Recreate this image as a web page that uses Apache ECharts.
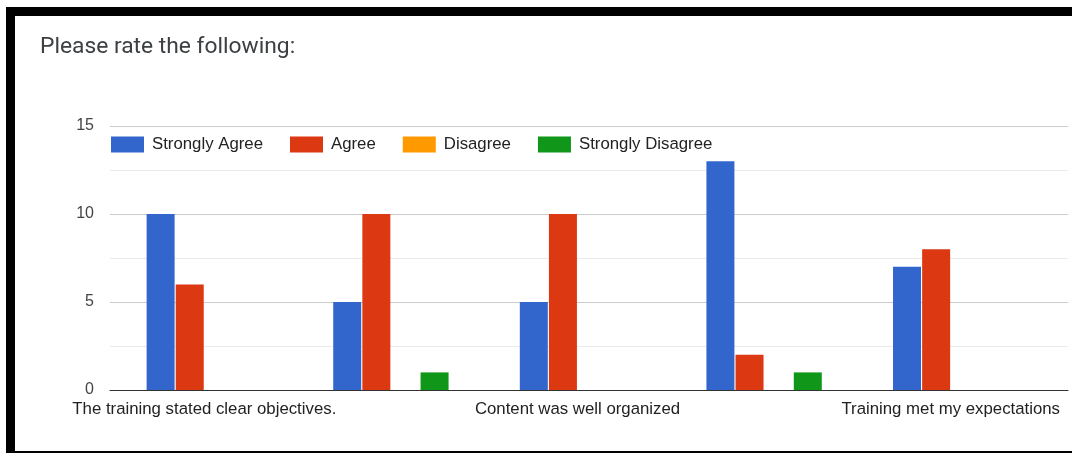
<!DOCTYPE html>
<html>
<head>
<meta charset="utf-8">
<style>
  html, body { margin: 0; padding: 0; background: #fff; }
  #chart { width: 1072px; height: 453px; }
</style>
<script src="https://cdn.jsdelivr.net/npm/echarts@6/dist/echarts.min.js"></script>
</head>
<body>
<div id="chart"></div>
<script>
// Survey statements (only every other one gets a visible axis label)
const categories = [
  'The training stated clear objectives.',
  'The trainer was knowledgeable',
  'Content was well organized',
  'Materials were relevant and useful',
  'Training met my expectations'
];

const seriesNames = ['Strongly Agree', 'Agree', 'Disagree', 'Strongly Disagree'];

// Response counts per statement
const stronglyAgree    = [10, 5, 5, 13, 7];
const agree            = [6, 10, 10, 2, 8];
const disagree         = [0, 0, 0, 0, 0];
const stronglyDisagree = [0, 1, 0, 1, 0];

const yTicks = [0, 5, 10, 15];

const colors = ['#3366cc', '#dc3912', '#ff9900', '#109618'];
const values = [stronglyAgree, agree, disagree, stronglyDisagree];

const chart = echarts.init(document.getElementById('chart'), null, { renderer: 'canvas' });

const labelFont = 'Arial, "Liberation Sans", sans-serif';
const labelSize = 16.8;
const yMin = yTicks[0];
const yMax = yTicks[yTicks.length - 1];

chart.setOption({
  animation: false,
  color: colors,
  title: {
    text: 'Please rate the following:',
    left: 35,
    top: 31,
    textStyle: {
      fontFamily: 'Roboto, "Noto Sans", sans-serif',
      fontSize: 22.8,
      fontWeight: 'normal',
      color: '#3c4043'
    }
  },
  legend: {
    data: seriesNames,
    left: 106,
    top: 131,
    itemWidth: 33,
    itemHeight: 16,
    itemGap: 27,
    icon: 'rect',
    textStyle: {
      fontFamily: labelFont,
      fontSize: labelSize,
      color: '#222',
      padding: [0, 0, 0, 3]
    },
    itemStyle: { borderWidth: 0 }
  },
  // grid 0: full-width gridlines and baseline; grid 1: the bars
  grid: [
    { left: 110, right: 4, top: 126, bottom: 63, containLabel: false },
    { left: 111, right: 28, top: 126, bottom: 63, containLabel: false }
  ],
  xAxis: [
    {
      gridIndex: 0,
      type: 'value',
      min: 0,
      max: 1,
      axisLabel: { show: false },
      axisTick: { show: false },
      splitLine: { show: false },
      axisLine: { show: true, onZero: false, lineStyle: { color: '#333', width: 1 } }
    },
    {
      gridIndex: 1,
      type: 'category',
      data: categories,
      axisTick: { show: false },
      axisLine: { show: false },
      axisLabel: {
        interval: 1,
        margin: 11,
        fontFamily: labelFont,
        fontSize: labelSize,
        color: '#222'
      }
    }
  ],
  yAxis: [
    {
      gridIndex: 0,
      type: 'value',
      min: yMin,
      max: yMax,
      interval: 5,
      axisLine: { show: false },
      axisTick: { show: false },
      axisLabel: {
        margin: 16,
        fontFamily: labelFont,
        fontSize: 16,
        color: '#444'
      },
      splitLine: { lineStyle: { color: '#cccccc', width: 1 } },
      minorTick: { show: false, splitNumber: 2 },
      minorSplitLine: { show: true, lineStyle: { color: '#ebebeb', width: 1 } }
    },
    {
      gridIndex: 1,
      type: 'value',
      min: yMin,
      max: yMax,
      interval: 5,
      show: false,
      splitLine: { show: false }
    }
  ],
  graphic: [
    // frame around the panel
    { type: 'rect', shape: { x: 6, y: 7, width: 1066, height: 9 }, style: { fill: '#000' }, silent: true },
    { type: 'rect', shape: { x: 6, y: 7, width: 9, height: 446 }, style: { fill: '#000' }, silent: true },
    { type: 'rect', shape: { x: 6, y: 451, width: 1066, height: 2 }, style: { fill: '#000' }, silent: true }
  ],
  series: seriesNames.map(function (name, k) {
    return {
      name: name,
      type: 'bar',
      xAxisIndex: 1,
      yAxisIndex: 1,
      data: values[k],
      barWidth: 28,
      barGap: '4%',
      itemStyle: { color: colors[k] }
    };
  })
});
</script>
</body>
</html>
